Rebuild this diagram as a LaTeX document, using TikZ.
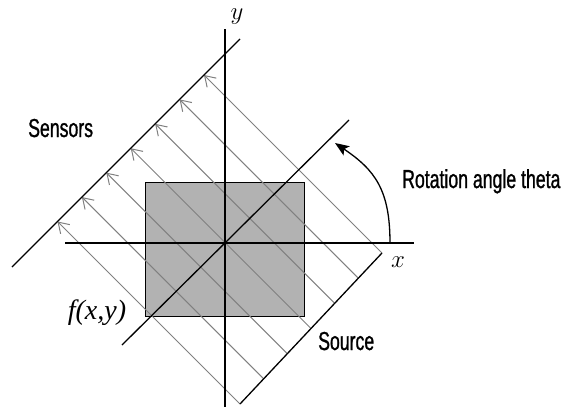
\documentclass[tikz,border=0pt]{standalone}
\usepackage{fontspec}
\newfontfamily\labelfont[FakeStretch=0.68,FakeBold=1]{Liberation Sans}
\newfontfamily\fxyfont{Liberation Serif}
\usetikzlibrary{arrows.meta}
\begin{document}
\begin{tikzpicture}[x=1pt,y=-1pt,
  axis/.style={line width=1.3pt,black},
  ray/.style={line width=1pt,draw=black!50,-{Straight Barb[length=10pt,width=13pt]}},
  lbl/.style={font=\labelfont\fontsize{26}{30}\selectfont,inner sep=0pt},
  mlbl/.style={font=\fontsize{26}{30}\selectfont,inner sep=0pt}]
\useasboundingbox (0,0) rectangle (563,407);
% object
\node[draw,line width=1pt,fill=black!30,minimum width=159pt,minimum height=134pt,
      inner sep=0pt,anchor=north west] (rect) at (145,182) {};
% rays
\foreach \k in {0,...,6}{
  \pgfmathsetmacro\s{\k/6}
  \pgfmathsetmacro\u{-164+293*\s}
  \coordinate (src\k) at ({240+142*\s},{404-151*\s});
  \coordinate (sen\k) at ({(279+\u)/2},{(279-\u)/2});
  \draw[ray] (src\k) -- (sen\k);
}
% axes
\coordinate (yt) at (225,29);  \coordinate (yb) at (225,407);
\coordinate (xl) at (65,243);  \coordinate (xr) at (414,243);
\coordinate (rl) at (122,345); \coordinate (rr) at (349,120);
\coordinate (snA) at (12,267); \coordinate (snB) at (240,39);
\coordinate (soA) at (240,404); \coordinate (soB) at (382,253);
\draw[axis] (yb) -- (yt);
\draw[axis] (xl) -- (xr);
\draw[axis] (rl) -- (rr);
\draw[axis] (snA) -- (snB);
\draw[axis] (soA) -- (soB);
% rotation arrow
\coordinate (cs) at (390,243); \coordinate (ce) at (335,143);
\draw[line width=1.3pt,-{Stealth[length=14pt,width=11pt,inset=3pt]}]
  (cs) .. controls (390,190) and (375,170) .. (ce);
% labels
\node[lbl,anchor=base west] (sensors) at (28,137) {Sensors};
\node[lbl,anchor=base west] (theta) at (402,188) {Rotation angle theta};
\node[lbl,anchor=base west] (source) at (318,350) {Source};
\node[mlbl] (ylab) at (237,17) {$y$};
\node[mlbl] (xlab) at (398,262) {$x$};
\node[mlbl,font=\fxyfont\itshape\fontsize{28}{32}\selectfont] (flab) at (97,313) {f(x,y)};
\end{tikzpicture}
\end{document}
